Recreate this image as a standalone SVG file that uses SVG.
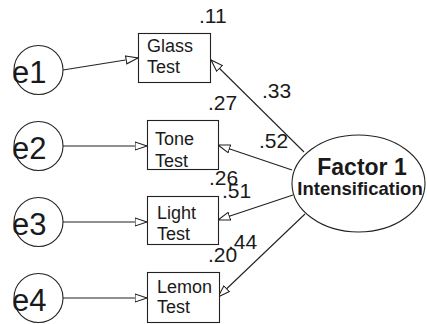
<svg xmlns="http://www.w3.org/2000/svg" width="427" height="324" viewBox="0 0 427 324">
  <style>
    .shape { fill: #fff; stroke: #222; stroke-width: 1.1; }
    .link { fill: none; stroke: #222; stroke-width: 1.1; marker-end: url(#open-arrow); }
    .err { font-family: "Liberation Sans", Arial, sans-serif; font-size: 31px; fill: #1a1a1a; }
    .box { font-family: "Liberation Sans", Arial, sans-serif; font-size: 18px; fill: #1a1a1a; }
    .num { font-family: "Liberation Sans", Arial, sans-serif; font-size: 21px; fill: #1a1a1a; }
    .factor { font-family: "Liberation Sans", Arial, sans-serif; font-weight: bold; fill: #1a1a1a; text-anchor: middle; }
  </style>
  <defs>
    <marker id="open-arrow" viewBox="0 0 13 10" refX="12.5" refY="5" markerWidth="13" markerHeight="10" markerUnits="userSpaceOnUse" orient="auto">
      <path d="M0.5,1 L12.5,5 L0.5,9 Z" fill="#fff" stroke="#222" stroke-width="1.1"/>
    </marker>
  </defs>
  <rect width="427" height="324" fill="#fff"/>

  <!-- connectors -->
  <g id="connectors">
    <line class="link" x1="63" y1="70" x2="138" y2="58"/>
    <line class="link" x1="63" y1="146" x2="147" y2="146"/>
    <line class="link" x1="63" y1="222" x2="147" y2="222"/>
    <line class="link" x1="63" y1="298" x2="147" y2="298"/>
    <line class="link" x1="304" y1="152" x2="211" y2="60"/>
    <line class="link" x1="292" y1="170" x2="218" y2="145"/>
    <line class="link" x1="293" y1="195" x2="218" y2="220"/>
    <line class="link" x1="305" y1="214" x2="218" y2="297"/>
  </g>

  <!-- error terms -->
  <g id="e1">
    <circle class="shape" cx="38.5" cy="70" r="24.5"/>
    <text class="err" x="12" y="83">e1</text>
  </g>
  <g id="e2">
    <circle class="shape" cx="38.5" cy="146" r="24.5"/>
    <text class="err" x="12" y="159">e2</text>
  </g>
  <g id="e3">
    <circle class="shape" cx="38.5" cy="222" r="24.5"/>
    <text class="err" x="12" y="235">e3</text>
  </g>
  <g id="e4">
    <circle class="shape" cx="38.5" cy="298" r="24.5"/>
    <text class="err" x="12" y="311">e4</text>
  </g>

  <!-- observed measures -->
  <g id="glass">
    <rect class="shape" x="138.5" y="33.5" width="72" height="49"/>
    <text class="box" x="147" y="52">Glass</text>
    <text class="box" x="147" y="73">Test</text>
    <text class="num" x="199" y="23">.11</text>
  </g>
  <g id="tone">
    <rect class="shape" x="147.5" y="120.5" width="71" height="49"/>
    <text class="box" x="155" y="145">Tone</text>
    <text class="box" x="155" y="167">Test</text>
    <text class="num" x="208" y="110">.27</text>
  </g>
  <g id="light">
    <rect class="shape" x="147.5" y="196.5" width="71" height="48"/>
    <text class="box" x="157" y="219">Light</text>
    <text class="box" x="157" y="240">Test</text>
    <text class="num" x="209" y="185">.26</text>
  </g>
  <g id="lemon">
    <rect class="shape" x="147.5" y="272.5" width="72" height="50"/>
    <text class="box" x="157" y="293">Lemon</text>
    <text class="box" x="157" y="313">Test</text>
    <text class="num" x="208" y="262">.20</text>
  </g>

  <!-- latent factor -->
  <g id="factor1">
    <ellipse class="shape" cx="358.5" cy="183.5" rx="66.5" ry="48.5"/>
    <text class="factor" x="362" y="175" font-size="23">Factor 1</text>
    <text class="factor" x="360" y="195" font-size="18.5">Intensification</text>
  </g>

  <!-- loadings -->
  <g id="loadings">
    <text class="num" x="262" y="98">.33</text>
    <text class="num" x="259" y="148">.52</text>
    <text class="num" x="222" y="198">.51</text>
    <text class="num" x="228" y="249">.44</text>
  </g>
</svg>
